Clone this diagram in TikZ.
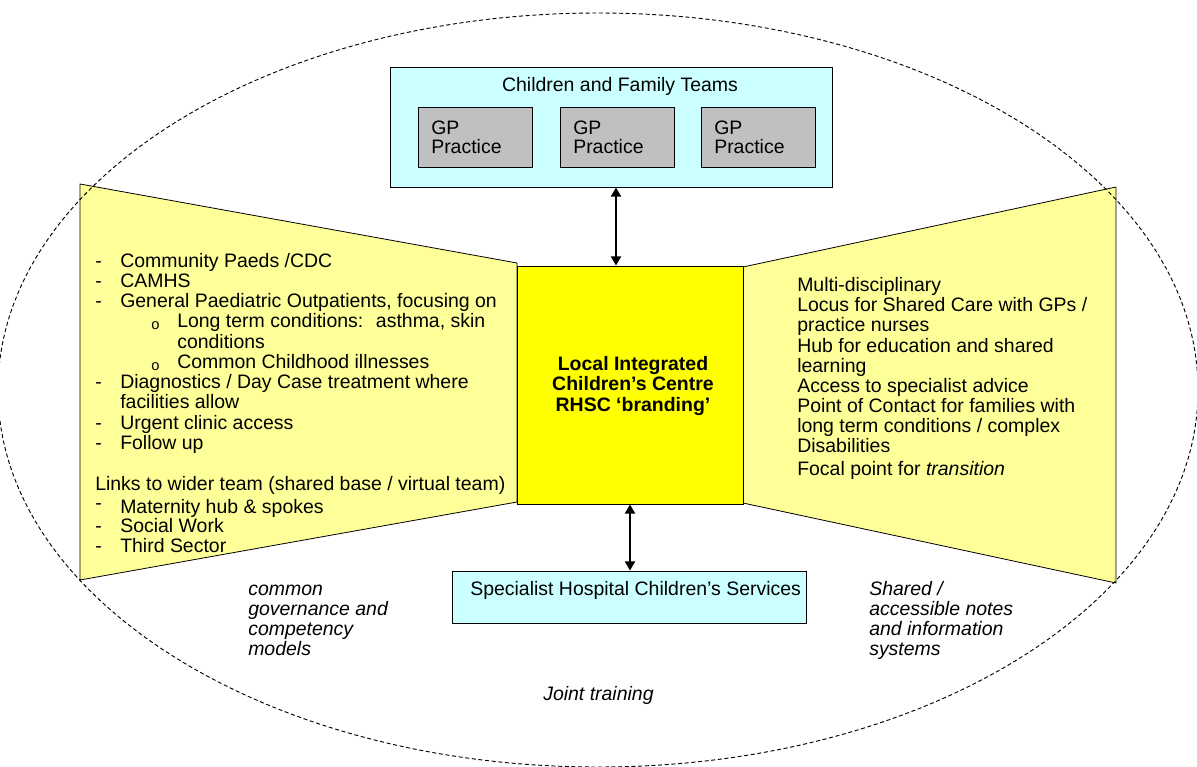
\documentclass[tikz,border=0pt]{standalone}
\usepackage{fontspec}
\setmainfont{Liberation Sans}
\usetikzlibrary{arrows.meta,fit}
\definecolor{wingyellow}{RGB}{255,255,153}
\definecolor{hubyellow}{RGB}{255,255,0}
\definecolor{teamcyan}{RGB}{204,255,255}
\definecolor{gpgrey}{RGB}{192,192,192}
\tikzset{
  txt/.style={anchor=base west,inner sep=0pt,yshift=-5.25pt},
  box/.style={draw=black,inner sep=0pt,line width=0.6pt},
  note/.style={txt,font=\itshape\fontsize{14.6}{17}\selectfont},
  biarrow/.style={{Triangle[length=7pt,width=7.5pt]}-{Triangle[length=7pt,width=7.5pt]},line width=2.2pt}
}
\begin{document}
\begin{tikzpicture}[x=0.75pt,y=-0.75pt,font=\fontsize{14.6}{17}\selectfont]
        \useasboundingbox (0,0) rectangle (1197,767);
        % left wing
        \draw[fill=wingyellow,draw=black,line width=0.6pt] (80,184) -- (517,263) -- (517,502) -- (80,580) -- cycle;
        \foreach \y/\t in {260/{Community Paeds /CDC}, 280/CAMHS, 300/{General Paediatric Outpatients, focusing on},
                           381/{Diagnostics / Day Case treatment where}, 422/Urgent clinic access, 442/Follow up,
                           525/Social Work, 545/Third Sector}{
          \node[txt] (ldash\y) at (95,\y) {-};
          \node[txt] (litem\y) at (120,\y) {\t};
        }
        \node[txt] (lcont381) at (120,401) {facilities allow};
        \node[txt] (ldash506) at (95,502) {-};
        \node[txt] (litem506) at (120,506) {Maternity hub \& spokes};
        \node[txt] (links) at (95,483) {Links to wider team (shared base / virtual team)};
        \foreach \y/\t in {320/{Long term conditions:~ asthma, skin}, 361/Common Childhood illnesses}{
          \node[txt,font=\fontsize{11}{13}\selectfont] (lsub\y) at (151,\y+2) {o};
          \node[txt] (lsubitem\y) at (177,\y) {\t};
        }
        \node[txt] (lsubcont) at (177,341) {conditions};
        % right wing
        \draw[fill=wingyellow,draw=black,line width=0.6pt] (743,267) -- (1116,187) -- (1116,583) -- (743,503) -- cycle;
        \foreach \y/\t in {284/Multi-disciplinary, 304/{Locus for Shared Care with GPs /}, 324/practice nurses,
                           345/Hub for education and shared, 365/learning, 385/Access to specialist advice,
                           405/Point of Contact for families with, 425/{long term conditions / complex},
                           445/Disabilities, 468/{Focal point for \textit{transition}}}{
          \node[txt] (ritem\y) at (797,\y) {\t};
        }
        % centre
        \node[box,fill=hubyellow,fit={(517,266) (743,504)}] (centre) {};
        \node[align=center,font=\bfseries\fontsize{14.6}{15.4}\selectfont] (centretxt) at (633,386)
          {Local Integrated\\Children’s Centre\\RHSC ‘branding’};
        % children and family teams
        \node[box,fill=teamcyan,fit={(390,67) (832,187)}] (teams) {};
        \node (teamstxt) at (620,86) {Children and Family Teams};
        \foreach \x [count=\i] in {418,560,701}{
          \node[box,fill=gpgrey,fit={(\x,107) (\x+114,167)}] (gp\i) {};
          \node[txt] (gpa\i) at (\x+13,127) {GP};
          \node[txt] (gpb\i) at (\x+13,147) {Practice};
        }
        % specialist services
        \node[box,fill=teamcyan,fit={(452,571) (806,623)}] (spec) {};
        \node[txt] (spectxt) at (470,588) {Specialist Hospital Children’s Services};
        % links
        \draw[biarrow] ([xshift=3.75pt]teams.south) -- ([xshift=3.75pt]teams.south |- centre.north);
        \draw[biarrow] (centre.south) -- (centre.south |- spec.north);
        % italic notes
        \foreach \y/\t [count=\i] in {588/common, 608/governance and, 628/competency, 648/models}{
          \node[note] (gov\i) at (248,\y) {\t};
        }
        \foreach \y/\t [count=\i] in {588/{Shared /}, 608/accessible notes, 628/and information, 648/systems}{
          \node[note] (sys\i) at (869,\y) {\t};
        }
        \node[note] (training) at (543,693) {Joint training};
        % outer boundary
        \draw[dash pattern=on 3pt off 2pt,line width=0.7pt] (598,390) ellipse [x radius=600, y radius=377];
    \end{tikzpicture}
\end{document}
